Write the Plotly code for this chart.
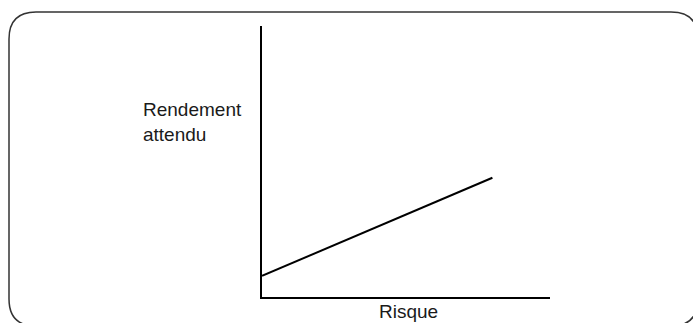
import plotly.graph_objects as go

W, H = 693, 323

# data (risk vs expected return, normalized units)
risk = [0.0, 0.80]
expected_return = [0.078, 0.44]

x_title = "Risque"
y_title = "Rendement<br>attendu"

# plot area in pixels
px0, px1 = 262, 550
py_top, py_bot = 26, 297

fig = go.Figure()
fig.add_trace(go.Scatter(x=risk, y=expected_return, mode="lines",
                         line=dict(color="black", width=2), showlegend=False,
                         hoverinfo="skip"))

def fx(p):
    return p / W

def fy(p):
    return 1 - p / H

# rounded rectangle frame (paper coordinates)
L, R, T, B, r = 9, 698, 12, 326, 27
path = (f"M {fx(L+r)},{fy(T)} L {fx(R-r)},{fy(T)} "
        f"Q {fx(R)},{fy(T)} {fx(R)},{fy(T+r)} "
        f"L {fx(R)},{fy(B-r)} Q {fx(R)},{fy(B)} {fx(R-r)},{fy(B)} "
        f"L {fx(L+r)},{fy(B)} Q {fx(L)},{fy(B)} {fx(L)},{fy(B-r)} "
        f"L {fx(L)},{fy(T+r)} Q {fx(L)},{fy(T)} {fx(L+r)},{fy(T)} Z")

fig.update_layout(
    width=W, height=H,
    margin=dict(l=0, r=0, t=0, b=0),
    paper_bgcolor="white", plot_bgcolor="white",
    font=dict(family="Liberation Sans, Arial, sans-serif", color="#1a1a1a"),
    xaxis=dict(domain=[px0 / W, px1 / W], range=[0, 1], showgrid=False,
               zeroline=False, showticklabels=False, ticks="",
               showline=True, linecolor="black", linewidth=2),
    yaxis=dict(domain=[1 - py_bot / H, 1 - py_top / H], range=[0, 1],
               showgrid=False, zeroline=False, showticklabels=False, ticks="",
               showline=True, linecolor="black", linewidth=2),
    shapes=[dict(type="path", path=path, xref="paper", yref="paper",
                 line=dict(color="#333333", width=1.5), layer="below")],
    annotations=[
        dict(text=y_title, xref="paper", yref="paper", x=fx(141), y=fy(97),
             xanchor="left", yanchor="top", align="left", showarrow=False,
             font=dict(size=19)),
        dict(text=x_title, xref="paper", yref="paper", x=fx(408), y=fy(299),
             xanchor="center", yanchor="top", showarrow=False,
             font=dict(size=19)),
    ],
)

fig.write_html("out.html",
               config={"displayModeBar": False, "staticPlot": True},
               post_script="document.body.style.margin='0';"
                           "document.body.style.overflow='hidden';")
